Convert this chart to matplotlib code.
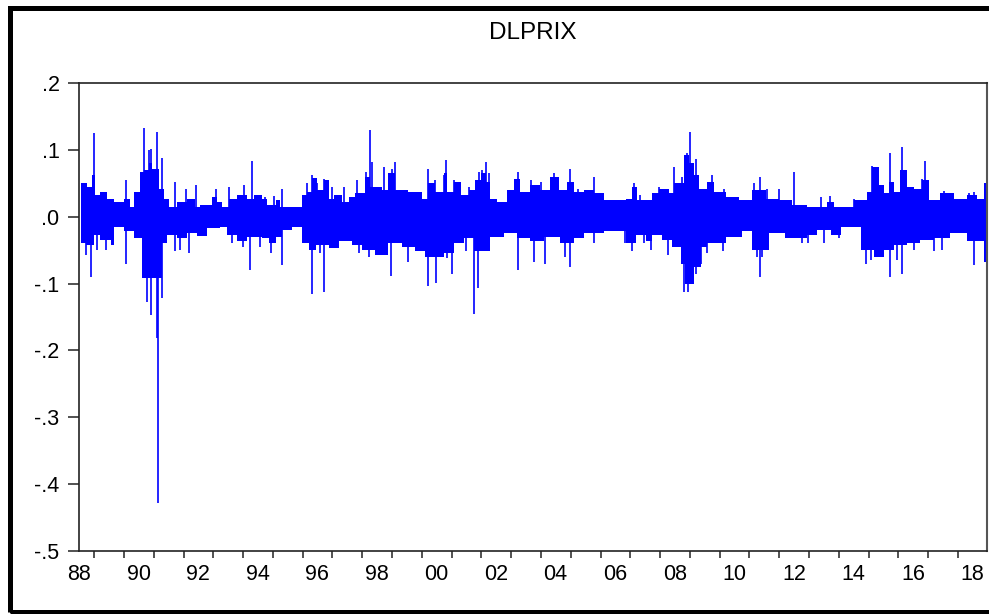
"""EViews-style line chart of DLPRIX (daily log price changes), 1988-2018."""

import numpy as np
import matplotlib.pyplot as plt
from matplotlib.patches import Rectangle

plt.rcParams["font.family"] = ["Liberation Sans", "DejaVu Sans"]

TITLE = "DLPRIX"

# dense band of the series: step envelope (decimal years)
upper_t = [1988.05, 1988.27, 1988.44, 1988.55, 1988.72, 1988.94, 1989.17, 1989.50,
           1989.72, 1989.84, 1990.06, 1990.17, 1990.34, 1990.45, 1990.68, 1990.84,
           1991.01, 1991.29, 1991.62, 1991.90, 1992.07, 1992.46, 1992.63, 1992.80,
           1993.02, 1993.30, 1993.63, 1993.86,
           1994.15, 1994.32, 1994.60, 1994.76, 1995.49, 1995.66, 1995.83, 1995.99,
           1996.22, 1996.38, 1996.55, 1996.83, 1997.05, 1997.28, 1997.61, 1997.78,
           1998.17, 1998.39, 1998.62, 1999.06, 1999.51, 1999.73, 1999.96,
           2000.25, 2000.36, 2000.59, 2000.81, 2001.09, 2001.31, 2001.48, 2001.65,
           2001.81, 2002.04, 2002.37, 2002.60, 2002.82, 2003.15, 2003.49, 2003.82,
           2004.10, 2004.38, 2004.61, 2004.94, 2005.28, 2005.61,
           2006.35, 2006.58, 2006.75, 2007.25, 2007.47, 2007.81, 2007.97, 2008.31,
           2008.48, 2008.64, 2008.81, 2009.09, 2009.31, 2009.71, 2010.15, 2010.60,
           2011.05, 2011.49, 2011.94,
           2012.45, 2013.13, 2013.35, 2014.02, 2014.47, 2014.63, 2014.86, 2015.02,
           2015.19, 2015.36, 2015.58, 2015.81, 2016.03, 2016.31, 2016.53, 2016.92,
           2017.37, 2017.82, 2018.15, 2018.38]
upper_v = [0.050, 0.045, 0.062, 0.032, 0.037, 0.027, 0.022, 0.026,
           0.015, 0.037, 0.067, 0.070, 0.080, 0.072, 0.042, 0.027,
           0.015, 0.022, 0.027, 0.015, 0.017, 0.030, 0.022, 0.015,
           0.027, 0.032, 0.027, 0.032,
           0.027, 0.017, 0.025, 0.015, 0.032, 0.037, 0.058, 0.040,
           0.055, 0.027, 0.032, 0.022, 0.030, 0.035, 0.060, 0.045,
           0.040, 0.065, 0.040, 0.037, 0.027, 0.050, 0.037,
           0.065, 0.037, 0.052, 0.032, 0.040, 0.055, 0.065, 0.052,
           0.027, 0.022, 0.040, 0.057, 0.037, 0.047, 0.040, 0.060,
           0.040, 0.052, 0.037, 0.040, 0.035, 0.025,
           0.027, 0.045, 0.025, 0.035, 0.042, 0.035, 0.050, 0.092,
           0.080, 0.062, 0.042, 0.052, 0.037, 0.030, 0.025, 0.040,
           0.027, 0.025, 0.017,
           0.015, 0.022, 0.015, 0.025, 0.037, 0.075, 0.047, 0.035,
           0.052, 0.037, 0.070, 0.045, 0.042, 0.055, 0.025, 0.035,
           0.027, 0.032, 0.027, 0.050]

lower_t = [1988.05, 1988.22, 1988.50, 1988.72, 1989.06, 1989.17, 1989.50, 1989.84,
           1990.12, 1990.79, 1990.95, 1991.29, 1991.62, 1991.96, 1992.29, 1992.74,
           1992.96, 1993.30, 1993.63,
           1994.15, 1994.37, 1994.60, 1994.82, 1995.16, 1995.49, 1995.71, 1995.94,
           1996.38, 1996.72, 1997.17, 1997.50, 1997.95, 1998.39, 1998.84, 1999.29,
           1999.62,
           2000.25, 2000.59, 2000.92, 2001.26, 2001.81, 2002.26, 2002.71, 2003.15,
           2003.60, 2004.16, 2004.61, 2004.94, 2005.61,
           2006.35, 2006.69, 2007.02, 2007.25, 2007.58, 2007.92, 2008.20, 2008.36,
           2008.64, 2008.87, 2009.09, 2009.71, 2010.26, 2010.60, 2011.16, 2011.72,
           2012.45, 2012.79, 2013.24, 2013.57, 2014.24, 2014.69, 2015.02, 2015.36,
           2015.81, 2016.25, 2016.70, 2017.26, 2017.82, 2018.38]
lower_v = [-0.040, -0.042, -0.027, -0.035, -0.042, -0.015, -0.022, -0.032,
           -0.092, -0.040, -0.027, -0.032, -0.025, -0.029, -0.017, -0.015,
           -0.027, -0.037, -0.030,
           -0.032, -0.040, -0.030, -0.020, -0.015, -0.040, -0.050, -0.042,
           -0.047, -0.037, -0.042, -0.050, -0.057, -0.040, -0.045, -0.052,
           -0.060,
           -0.055, -0.040, -0.032, -0.052, -0.030, -0.025, -0.032, -0.037,
           -0.030, -0.040, -0.032, -0.025, -0.022,
           -0.040, -0.027, -0.037, -0.027, -0.035, -0.045, -0.070, -0.100,
           -0.075, -0.045, -0.040, -0.030, -0.022, -0.050, -0.025, -0.032,
           -0.027, -0.020, -0.027, -0.015, -0.050, -0.060, -0.050, -0.042,
           -0.040, -0.035, -0.032, -0.025, -0.037, -0.067]

series_end = 2018.47

# isolated spikes sticking out of the band
spike_up_t = [1988.50, 1989.58, 1990.19, 1990.34, 1990.40, 1990.61, 1990.80, 1991.21,
              1991.60, 1991.94, 1992.61, 1993.05, 1993.55, 1993.81,
              1994.26, 1994.56, 1994.82, 1995.64, 1995.83, 1995.99, 1996.24, 1996.50,
              1996.89, 1997.33, 1997.65, 1997.77, 1997.84, 1998.23, 1998.51, 1998.60,
              1999.71, 1999.96, 2000.24,
              2000.33, 2000.59, 2000.75, 2001.09, 2001.42, 2001.53, 2001.67, 2001.78,
              2002.73, 2003.18, 2003.51, 2003.94, 2004.47, 2004.77, 2005.30,
              2006.63, 2006.82, 2007.47, 2007.69, 2007.97, 2008.25, 2008.40, 2008.51,
              2008.72, 2009.12, 2009.26, 2009.65, 2010.65, 2010.86, 2011.10, 2011.51,
              2011.99,
              2012.90, 2013.21, 2014.02, 2014.63, 2014.80, 2014.97, 2015.23, 2015.64,
              2015.69, 2016.01, 2016.31, 2016.42, 2017.03, 2017.34, 2017.87, 2018.04]
spike_up_v = [0.125, 0.055, 0.132, 0.100, 0.102, 0.127, 0.088, 0.052,
              0.041, 0.047, 0.042, 0.045, 0.047, 0.084,
              0.029, 0.031, 0.041, 0.050, 0.062, 0.050, 0.057, 0.045,
              0.045, 0.055, 0.067, 0.130, 0.082, 0.075, 0.072, 0.082,
              0.072, 0.055, 0.062,
              0.085, 0.055, 0.052, 0.045, 0.067, 0.070, 0.082, 0.065,
              0.067, 0.055, 0.052, 0.065, 0.072, 0.042, 0.060,
              0.050, 0.032, 0.045, 0.042, 0.075, 0.060, 0.095, 0.127,
              0.087, 0.052, 0.062, 0.041, 0.050, 0.060, 0.041, 0.041,
              0.067,
              0.029, 0.031, 0.027, 0.076, 0.060, 0.047, 0.096, 0.104,
              0.070, 0.045, 0.057, 0.084, 0.038, 0.036, 0.035, 0.037]

spike_dn_t = [1988.24, 1988.39, 1988.61, 1988.89, 1989.58, 1990.28, 1990.40, 1990.62,
              1990.64, 1990.79, 1991.21, 1991.40, 1991.68, 1993.13, 1993.52, 1993.75,
              1994.08,
              1994.43, 1994.82, 1995.83, 1996.10, 1996.22, 1997.39, 1997.72, 1998.48,
              1999.03, 1999.71, 1999.98,
              2000.36, 2000.53, 2000.98, 2001.26, 2001.40, 2002.73, 2003.27, 2003.66,
              2004.33, 2004.47, 2005.28, 2006.34,
              2006.55, 2006.97, 2007.19, 2007.77, 2008.31, 2008.45, 2008.70, 2008.87,
              2009.07, 2009.62, 2010.77, 2010.86, 2010.93, 2012.27,
              2012.46, 2013.01, 2013.52, 2014.41, 2014.58, 2014.74, 2015.23, 2015.47,
              2015.64, 2016.03, 2016.70, 2016.98, 2018.04]
spike_dn_v = [-0.057, -0.090, -0.050, -0.050, -0.071, -0.127, -0.147, -0.181,
              -0.428, -0.122, -0.052, -0.050, -0.055, -0.040, -0.045, -0.080,
              -0.045,
              -0.055, -0.072, -0.115, -0.055, -0.112, -0.055, -0.060, -0.088,
              -0.067, -0.104, -0.099,
              -0.062, -0.085, -0.052, -0.145, -0.107, -0.080, -0.067, -0.070,
              -0.060, -0.075, -0.040, -0.040,
              -0.052, -0.040, -0.050, -0.057, -0.112, -0.112, -0.085, -0.070,
              -0.055, -0.052, -0.060, -0.090, -0.060, -0.040,
              -0.040, -0.040, -0.032, -0.070, -0.065, -0.060, -0.090, -0.065,
              -0.085, -0.050, -0.052, -0.050, -0.072]

year_labels = ["88", "90", "92", "94", "96", "98", "00", "02", "04", "06",
               "08", "10", "12", "14", "16", "18"]
y_ticks = [0.2, 0.1, 0.0, -0.1, -0.2, -0.3, -0.4, -0.5]
y_tick_labels = [".2", ".1", ".0", "-.1", "-.2", "-.3", "-.4", "-.5"]

BLUE = "#0000ff"


def step_values(starts, values, at):
    idx = np.searchsorted(np.asarray(starts), at, side="right") - 1
    return np.asarray(values)[np.clip(idx, 0, len(values) - 1)]


def main() -> None:
    fig = plt.figure(figsize=(9.89, 6.14), dpi=100)
    ax = fig.add_axes([0.0799, 0.1026, 0.9176, 0.7622])

    # envelope of the dense daily series
    t = np.array(sorted(set(upper_t) | set(lower_t) | {series_end}))
    hi = step_values(upper_t, upper_v, t)
    lo = step_values(lower_t, lower_v, t)
    ax.fill_between(t, lo, hi, step="post", color=BLUE, linewidth=0)

    ax.vlines(spike_up_t, 0, spike_up_v, color=BLUE, linewidth=1.2)
    ax.vlines(spike_dn_t, 0, spike_dn_v, color=BLUE, linewidth=1.2)

    ax.set_xlim(1988.05, series_end)
    ax.set_ylim(-0.5, 0.2)

    label_years = [1988 + 2 * i for i in range(len(year_labels))]
    ax.set_xticks([y + 0.51 for y in range(1988, 2018)])
    ax.set_xticklabels([])
    ax.set_xticks(label_years, year_labels, minor=True)
    ax.tick_params(axis="x", which="major", direction="out", length=5, width=1.2,
                   color="#333333")
    ax.tick_params(axis="x", which="minor", length=0, pad=9, labelsize=15.5)

    ax.set_yticks(y_ticks, y_tick_labels)
    ax.tick_params(axis="y", direction="out", length=8, width=1.2, color="#333333",
                   pad=6, labelsize=15.5)

    for side in ("left", "top", "bottom"):
        ax.spines[side].set_color("#222222")
        ax.spines[side].set_linewidth(1.2)
    ax.spines["right"].set_color("#555555")
    ax.spines["right"].set_linewidth(1.5)

    fig.text(0.539, 0.946, TITLE, ha="center", va="center", fontsize=17.5)

    # thick outer frame of the screenshot
    frame = Rectangle((9.5 / 989, 2.0 / 614), 1.05, (614 - 7.5 - 2.0) / 614,
                      transform=fig.transFigure, fill=False, edgecolor="black",
                      linewidth=3.6, clip_on=False)
    fig.patches.append(frame)

    fig.savefig("out.png", dpi=100)
    plt.close(fig)


if __name__ == "__main__":
    main()
